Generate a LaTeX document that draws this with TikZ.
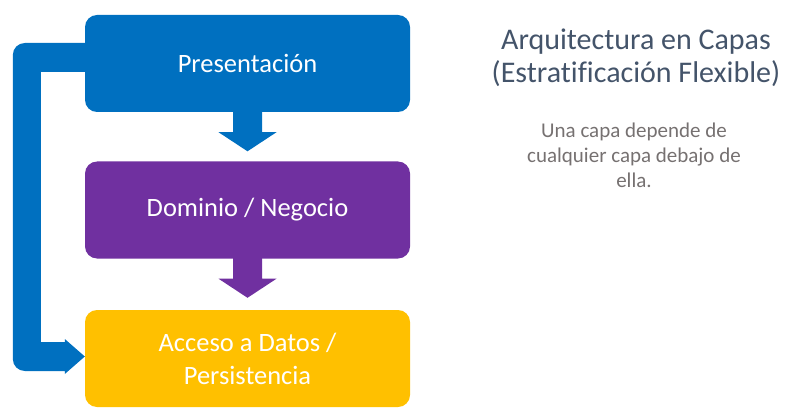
\documentclass[tikz,border=0pt]{standalone}
\usepackage{fontspec}
\setmainfont[Ligatures=NoCommon]{Carlito}
\usetikzlibrary{calc}

\definecolor{capaazul}{HTML}{0070C0}
\definecolor{capamorada}{HTML}{7030A0}
\definecolor{capaamarilla}{HTML}{FFC000}
\definecolor{titulogris}{HTML}{44546A}
\definecolor{textogris}{HTML}{767171}

\begin{document}
\begin{tikzpicture}[x=1pt, y=-1pt,
  capa/.style={rounded corners=12pt, minimum width=325pt, minimum height=97pt,
    inner sep=0pt, text=white, align=center, font=\fontsize{26.5}{33}\selectfont}]

\useasboundingbox (0,0) rectangle (802,414);

% Capas
\node[capa, fill=capaazul] (pres) at (247.5,63.5) {Presentación};
\node[capa, fill=capamorada] (dom) at (247.5,210) {Dominio / Negocio};
\node[capa, fill=capaamarilla] (datos) at (247.5,358.5) {Acceso a Datos /\\Persistencia};

% Flechas entre capas
\fill[capaazul] ($(pres.south)+(-14.5,-1)$) -- ($(pres.south)+(14.5,-1)$)
  -- ($(pres.south)+(14.5,20)$) -- ($(pres.south)+(29,20)$)
  -- ($(dom.north)+(0,-10)$)
  -- ($(pres.south)+(-29,20)$) -- ($(pres.south)+(-14.5,20)$) -- cycle;

\fill[capamorada] ($(dom.south)+(-14.5,-1)$) -- ($(dom.south)+(14.5,-1)$)
  -- ($(dom.south)+(14.5,20)$) -- ($(dom.south)+(29,20)$)
  -- ($(datos.north)+(0,-12)$)
  -- ($(dom.south)+(-29,20)$) -- ($(dom.south)+(-14.5,20)$) -- cycle;

% Flecha de Presentacion a Datos
\fill[capaazul] ($(pres.west)+(10,-20.5)$) [rounded corners=12pt]
  -- ($(pres.west)+(-72,-20.5)$) -- ($(datos.west)+(-72,12.5)$) [sharp corners]
  -- ($(datos.west)+(-20,12.5)$) -- ($(datos.west)+(-20,15.5)$)
  -- ($(datos.west)+(0,-2)$)
  -- ($(datos.west)+(-20,-19.5)$) -- ($(datos.west)+(-20,-16.5)$)
  -- ($(datos.west)+(-44,-16.5)$) -- ($(pres.west)+(-44,8.5)$)
  -- ($(pres.west)+(10,8.5)$) -- cycle;

% Titulo
\node[align=center, text=titulogris, font=\fontsize{30}{33}\selectfont] (titulo)
  at (636,58) {Arquitectura en Capas\\(Estratificación Flexible)};
\node[align=center, text=textogris, font=\fontsize{21}{25}\selectfont] (desc)
  at (634,155) {Una capa depende de\\cualquier capa debajo de\\ella.};

\end{tikzpicture}
\end{document}
